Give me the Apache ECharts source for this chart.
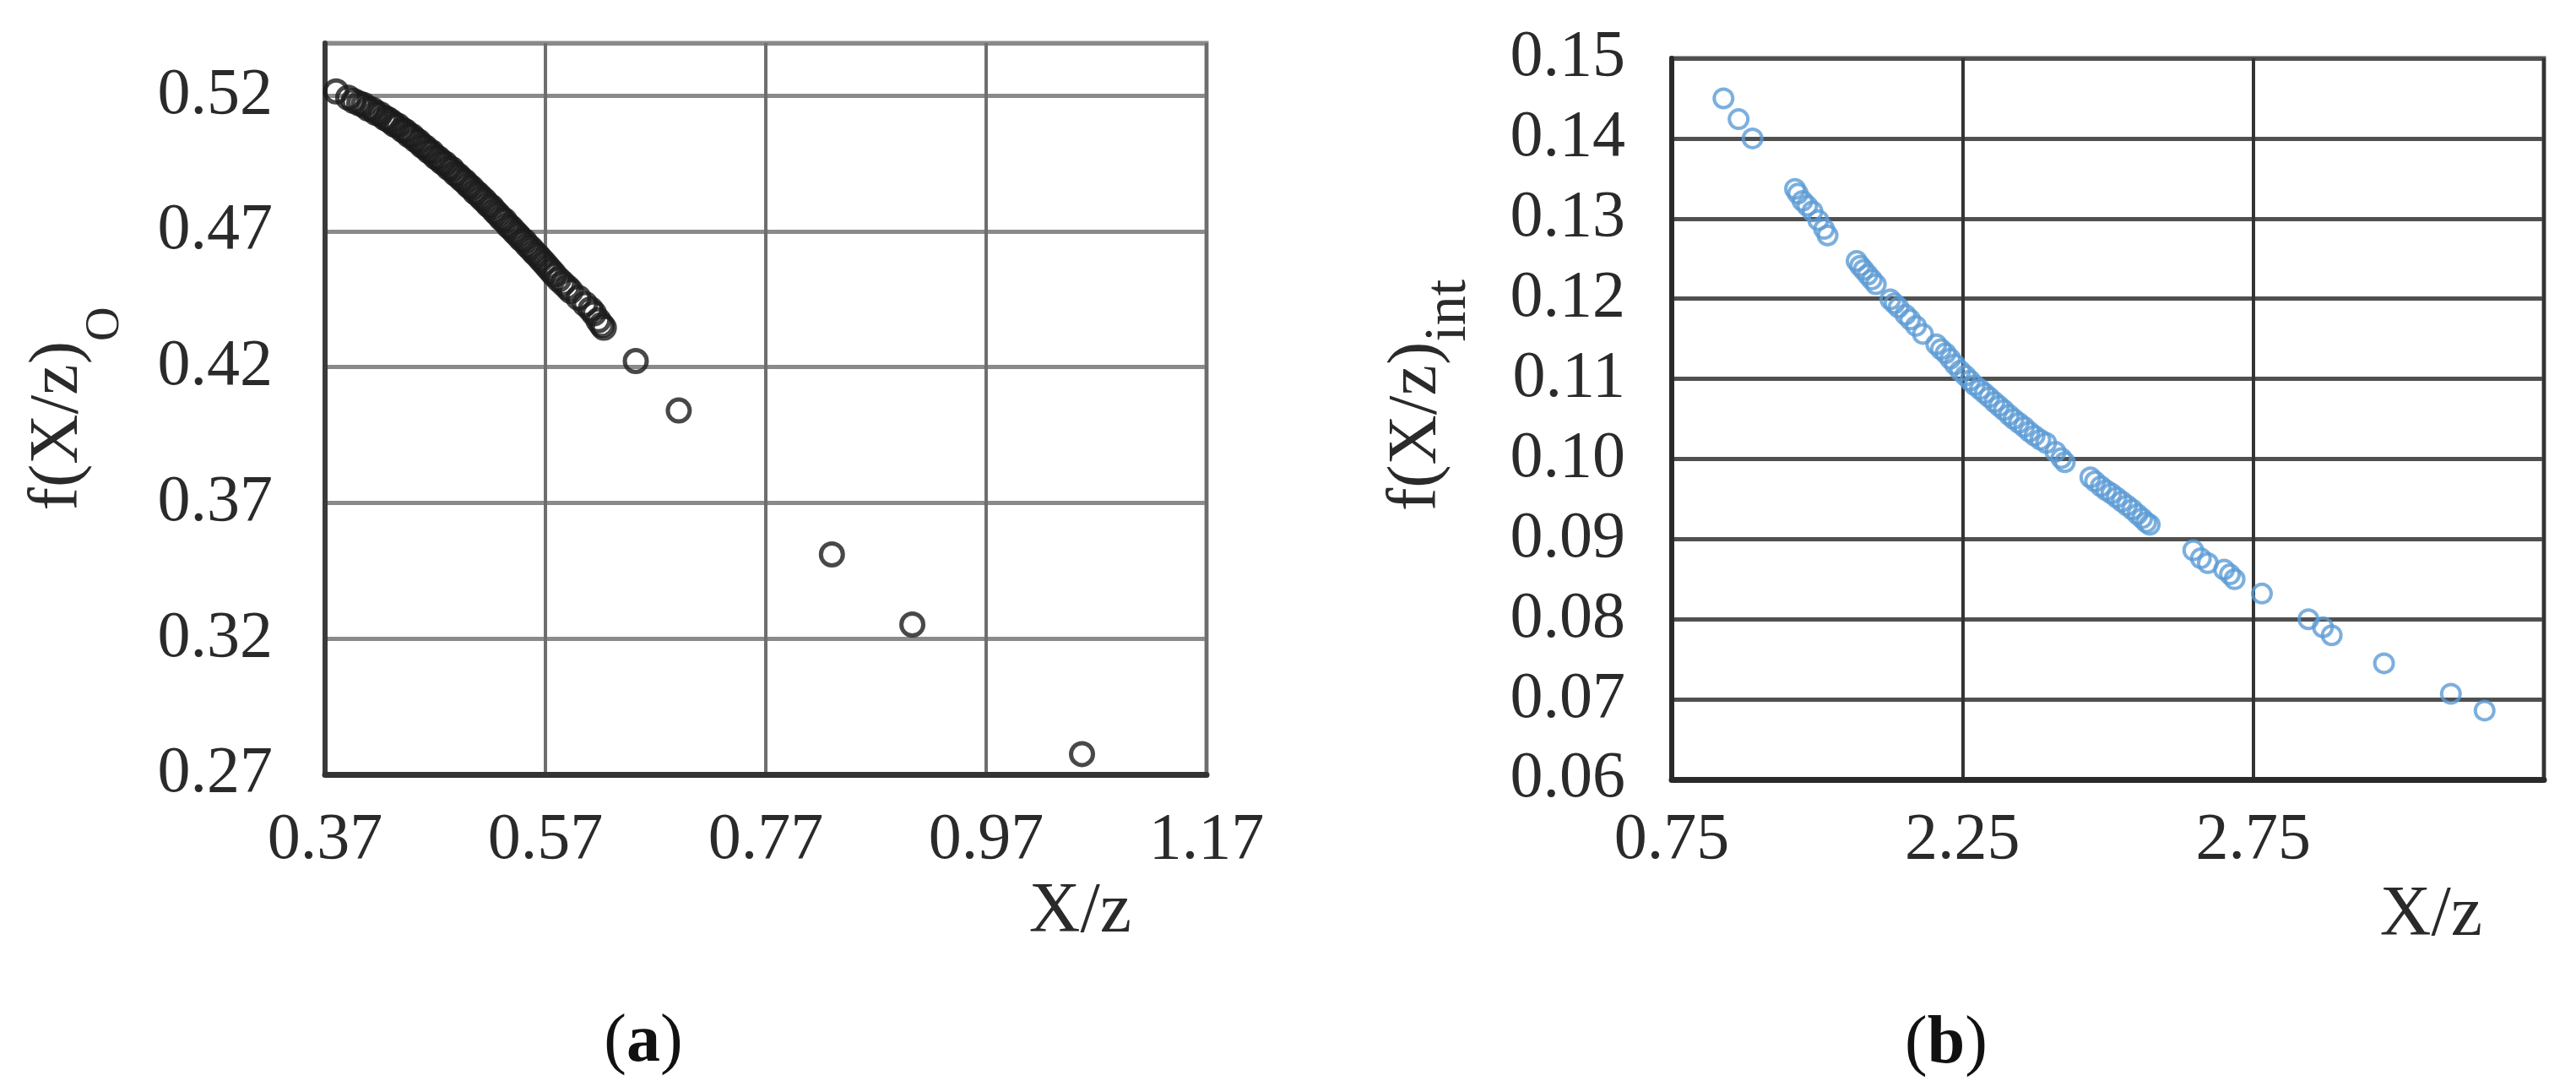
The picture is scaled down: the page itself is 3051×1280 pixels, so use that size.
<!DOCTYPE html>
<html>
<head>
<meta charset="utf-8">
<script src="https://cdn.jsdelivr.net/npm/echarts@6/dist/echarts.min.js"></script>
<style>
html,body{margin:0;padding:0;background:#ffffff;}
#chart{width:3051px;height:1280px;}
</style>
</head>
<body>
<div id="chart"></div>
<script>
// ---------- data: panel (a) ----------
const xTickLabelsA = ['0.37', '0.57', '0.77', '0.97', '1.17'];
const yTickLabelsA = ['0.27', '0.32', '0.37', '0.42', '0.47', '0.52'];
const pointsA = [
  [0.380,0.5215],[0.391,0.5192],[0.396,0.5180],[0.401,0.5171],[0.405,0.5165],[0.409,0.5152],
  [0.413,0.5148],[0.416,0.5136],[0.420,0.5131],[0.424,0.5118],[0.427,0.5112],[0.430,0.5104],
  [0.433,0.5093],[0.436,0.5089],[0.440,0.5074],[0.443,0.5068],[0.446,0.5055],[0.449,0.5050],
  [0.452,0.5037],[0.455,0.5030],[0.458,0.5016],[0.461,0.5009],[0.464,0.4996],[0.467,0.4990],
  [0.470,0.4975],[0.473,0.4968],[0.476,0.4955],[0.479,0.4949],[0.482,0.4934],[0.485,0.4929],
  [0.488,0.4913],[0.491,0.4905],[0.494,0.4892],[0.497,0.4883],[0.500,0.4869],[0.503,0.4860],
  [0.506,0.4845],[0.509,0.4836],[0.512,0.4823],[0.515,0.4812],[0.518,0.4798],[0.521,0.4789],
  [0.524,0.4774],[0.527,0.4762],[0.530,0.4748],[0.533,0.4739],[0.536,0.4722],[0.539,0.4712],
  [0.542,0.4698],[0.545,0.4686],[0.548,0.4672],[0.551,0.4663],[0.554,0.4647],[0.557,0.4636],
  [0.560,0.4622],[0.563,0.4610],[0.566,0.4596],[0.569,0.4583],[0.572,0.4569],[0.575,0.4555],
  [0.578,0.4541],[0.582,0.4523],[0.586,0.4508],[0.590,0.4493],[0.593,0.4480],[0.600,0.4455],
  [0.606,0.4432],[0.611,0.4413],[0.614,0.4398],[0.618,0.4372],[0.621,0.4355],[0.623,0.4345],
  [0.652,0.4222],[0.691,0.4040],[0.830,0.3510],[0.903,0.3252],[1.057,0.2775]
];

// ---------- data: panel (b) ----------
const xTickLabelsB = ['0.75', '2.25', '2.75', ''];
const yTickLabelsB = ['0.06', '0.07', '0.08', '0.09', '0.10', '0.11', '0.12', '0.13', '0.14', '0.15'];
const pointsB = [
  [1.839,0.1450],[1.865,0.1424],[1.889,0.1400],
  [1.962,0.1337],[1.967,0.1331],[1.975,0.1322],[1.983,0.1316],[1.992,0.1309],[2.002,0.1298],
  [2.012,0.1287],[2.018,0.1279],
  [2.068,0.1247],[2.074,0.1241],[2.080,0.1236],[2.087,0.1230],[2.094,0.1224],[2.101,0.1218],
  [2.126,0.1199],[2.133,0.1194],[2.140,0.1189],[2.152,0.1180],[2.160,0.1174],[2.170,0.1166],
  [2.182,0.1156],
  [2.205,0.1143],[2.213,0.1137],[2.221,0.1132],[2.229,0.1125],[2.237,0.1118],[2.246,0.1110],
  [2.255,0.1104],[2.263,0.1098],[2.271,0.1092],[2.280,0.1087],[2.288,0.1082],[2.296,0.1077],
  [2.305,0.1071],[2.313,0.1066],[2.321,0.1061],[2.330,0.1055],[2.338,0.1050],[2.347,0.1045],
  [2.356,0.1040],[2.365,0.1034],[2.374,0.1029],[2.384,0.1024],[2.394,0.1020],[2.410,0.1009],
  [2.420,0.1001],[2.426,0.0996],
  [2.470,0.0977],[2.478,0.0972],[2.488,0.0966],[2.497,0.0961],[2.506,0.0957],[2.515,0.0952],
  [2.524,0.0947],[2.533,0.0942],[2.542,0.0937],[2.551,0.0931],[2.559,0.0926],[2.566,0.0921],
  [2.572,0.0918],
  [2.647,0.0886],[2.660,0.0876],[2.672,0.0870],[2.700,0.0862],[2.710,0.0856],[2.718,0.0850],
  [2.765,0.0832],[2.845,0.0800],[2.870,0.0790],[2.885,0.0780],[2.975,0.0745],[3.090,0.0707],
  [3.148,0.0686]
];

const SERIF = "'Liberation Serif', 'Times New Roman', 'DejaVu Serif', serif";
const labelColor = '#2a2a2a';

const chart = echarts.init(document.getElementById('chart'), null, {renderer: 'canvas'});

function labelsFrom(arr) {
  return function (v, i) { return arr[i] !== undefined ? arr[i] : ''; };
}

const option = {
  backgroundColor: '#ffffff',
  animation: false,
  grid: [
    {left: 385, top: 51, width: 1044, height: 866, show: true, borderColor: '#8a8a8a', borderWidth: 5,
     backgroundColor: 'rgba(0,0,0,0)', containLabel: false, outerBoundsMode: 'none'},
    {left: 1980, top: 69, width: 1033, height: 854, show: true, borderColor: '#555555', borderWidth: 5,
     backgroundColor: 'rgba(0,0,0,0)', containLabel: false, outerBoundsMode: 'none'}
  ],
  xAxis: [
    {
      type: 'value', gridIndex: 0, min: 0.37, max: 1.17, interval: 0.2,
      axisLine: {show: true, lineStyle: {color: '#333333', width: 7}},
      axisTick: {show: false},
      splitLine: {show: true, lineStyle: {color: '#6e6e6e', width: 4}},
      axisLabel: {formatter: labelsFrom(xTickLabelsA), margin: 40, fontSize: 78, fontFamily: SERIF, color: labelColor},
      name: 'X/z', nameLocation: 'end', nameGap: -89,
      nameTextStyle: {fontSize: 84, fontFamily: SERIF, color: labelColor, align: 'right', verticalAlign: 'top', padding: [122, 0, 0, 0]}
    },
    {
      type: 'value', gridIndex: 1, min: 1.75, max: 3.25, interval: 0.5,
      axisLine: {show: true, lineStyle: {color: '#2a2a2a', width: 7}},
      axisTick: {show: false},
      splitLine: {show: true, lineStyle: {color: '#333333', width: 4}},
      axisLabel: {formatter: labelsFrom(xTickLabelsB), margin: 34, fontSize: 78, fontFamily: SERIF, color: labelColor},
      name: 'X/z', nameLocation: 'end', nameGap: -73,
      nameTextStyle: {fontSize: 84, fontFamily: SERIF, color: labelColor, align: 'right', verticalAlign: 'top', padding: [120, 0, 0, 0]}
    }
  ],
  yAxis: [
    {
      type: 'value', gridIndex: 0, min: 0.27, max: 0.5393, interval: 0.05,
      axisLine: {show: true, lineStyle: {color: '#3a3a3a', width: 6}},
      axisTick: {show: false},
      splitLine: {show: true, lineStyle: {color: '#8a8a8a', width: 5}},
      axisLabel: {formatter: labelsFrom(yTickLabelsA), margin: 62, fontSize: 78, fontFamily: SERIF, color: labelColor},
      name: '{m|f(X/z)}{s|O}', nameLocation: 'middle', nameRotate: 90, nameGap: 232,
      nameTextStyle: {
        rich: {
          m: {fontSize: 82, fontFamily: SERIF, color: labelColor},
          s: {fontSize: 56, fontFamily: SERIF, color: labelColor, padding: [112, 0, 0, 0]}
        }
      }
    },
    {
      type: 'value', gridIndex: 1, min: 0.06, max: 0.15, interval: 0.01,
      axisLine: {show: true, lineStyle: {color: '#2a2a2a', width: 6}},
      axisTick: {show: false},
      splitLine: {show: true, lineStyle: {color: '#505050', width: 5}},
      axisLabel: {formatter: labelsFrom(yTickLabelsB), margin: 55, fontSize: 78, fontFamily: SERIF, color: labelColor},
      name: '{m|f(X/z)}{s|int}', nameLocation: 'middle', nameRotate: 90, nameGap: 228,
      nameTextStyle: {
        padding: [0, 0, 0, 56],
        rich: {
          m: {fontSize: 82, fontFamily: SERIF, color: labelColor},
          s: {fontSize: 70, fontFamily: SERIF, color: labelColor, padding: [78, 0, 0, 0]}
        }
      }
    }
  ],
  series: [
    {
      type: 'scatter', xAxisIndex: 0, yAxisIndex: 0, data: pointsA,
      symbol: 'circle', symbolSize: 26,
      itemStyle: {color: 'rgba(255,255,255,0)', borderColor: '#1a1a1a', borderWidth: 5},
      silent: true
    },
    {
      type: 'scatter', xAxisIndex: 1, yAxisIndex: 1, data: pointsB,
      symbol: 'circle', symbolSize: 22,
      itemStyle: {color: 'rgba(255,255,255,0)', borderColor: '#5b9bd5', borderWidth: 4},
      silent: true
    }
  ],
  graphic: [
    {
      type: 'text', x: 762, y: 1235,
      style: {
        text: '{p|(}{b|a}{p|)}', align: 'center', verticalAlign: 'middle',
        rich: {
          p: {fontSize: 80, fontFamily: SERIF, fill: '#111'},
          b: {fontSize: 80, fontFamily: SERIF, fontWeight: 'bold', fill: '#111'}
        }
      }
    },
    {
      type: 'text', x: 2305, y: 1237,
      style: {
        text: '{p|(}{b|b}{p|)}', align: 'center', verticalAlign: 'middle',
        rich: {
          p: {fontSize: 80, fontFamily: SERIF, fill: '#111'},
          b: {fontSize: 80, fontFamily: SERIF, fontWeight: 'bold', fill: '#111'}
        }
      }
    }
  ]
};

chart.setOption(option);
</script>
</body>
</html>
